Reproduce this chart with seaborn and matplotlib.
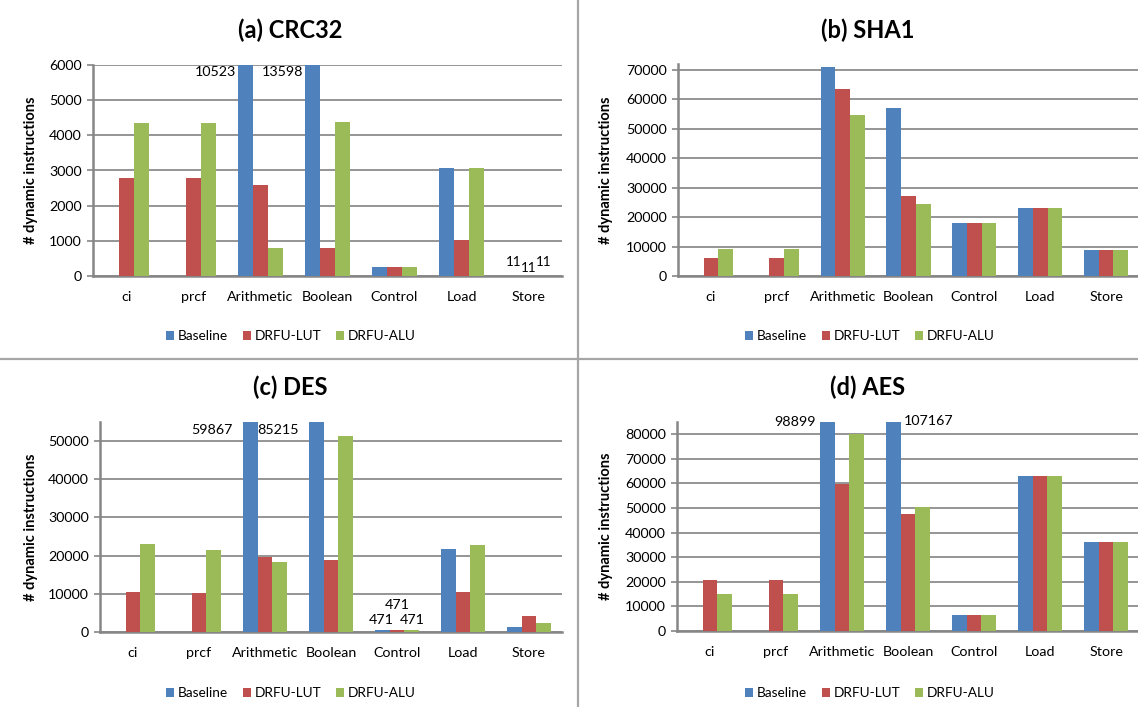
import numpy as np
import pandas as pd
import matplotlib
matplotlib.use("Agg")
import matplotlib.pyplot as plt
from matplotlib.patches import Patch
from matplotlib.lines import Line2D
import seaborn as sns

# ---------------- data ----------------
categories = ["ci", "prcf", "Arithmetic", "Boolean", "Control", "Load", "Store"]
series = ["Baseline", "DRFU-LUT", "DRFU-ALU"]

crc_baseline = [0, 0, 10523, 13598, 250, 3080, 11]
crc_lut = [2800, 2800, 2580, 790, 250, 1025, 11]
crc_alu = [4345, 4345, 790, 4375, 250, 3080, 11]

sha_baseline = [0, 0, 71100, 56900, 18000, 23100, 8900]
sha_lut = [6150, 6150, 63500, 27300, 18000, 23100, 8900]
sha_alu = [9200, 9200, 54750, 24600, 18000, 23100, 8900]

des_baseline = [0, 0, 59867, 85215, 471, 21750, 1300]
des_lut = [10350, 10200, 19700, 18800, 471, 10600, 4100]
des_alu = [23050, 21400, 18250, 51300, 471, 22800, 2400]

aes_baseline = [0, 0, 98899, 107167, 6600, 63200, 36300]
aes_lut = [20600, 20600, 59800, 47700, 6600, 63200, 36300]
aes_alu = [15100, 15100, 80000, 50400, 6600, 63200, 36300]

titles = ["(a) CRC32", "(b) SHA1", "(c) DES", "(d) AES"]
colors = ["#4F81BD", "#C0504D", "#9BBB59"]

# ---------------- style ----------------
sns.set_theme(style="white")
plt.rcParams["font.family"] = ["Lato", "DejaVu Sans"]
plt.rcParams["text.color"] = "#000000"

W, H = 1138, 707
fig = plt.figure(figsize=(W / 100, H / 100), dpi=100)


def px_rect(l, t, r, b):
    return [l / W, 1 - b / H, (r - l) / W, (b - t) / H]


def fx(x):
    return x / W


def fy(y):
    return 1 - y / H


GRID = "#8C8C8C"
SPINE = "#868686"
FS = 10.3


def make_df(b, l, a):
    rows = []
    for s, vals in zip(series, [b, l, a]):
        for c, v in zip(categories, vals):
            rows.append({"category": c, "series": s, "value": v})
    return pd.DataFrame(rows)


panels = [
    dict(data=(crc_baseline, crc_lut, crc_alu), rect=(93, 65, 562, 276), ymax=6000, step=1000,
         title_xy=(290, 30), ylab_x=31, leg_xy=(291, 336)),
    dict(data=(sha_baseline, sha_lut, sha_alu), rect=(678, 64, 1139, 276), ymax=72000, step=10000,
         yticks_max=70000, title_xy=(868, 30), ylab_x=606, leg_xy=(870, 336)),
    dict(data=(des_baseline, des_lut, des_alu), rect=(100, 422, 562, 632), ymax=55000, step=10000,
         yticks_max=50000, title_xy=(290, 387), ylab_x=31, leg_xy=(291, 693)),
    dict(data=(aes_baseline, aes_lut, aes_alu), rect=(677, 422, 1139, 631), ymax=85000, step=10000,
         yticks_max=80000, title_xy=(868, 387), ylab_x=606, leg_xy=(870, 693)),
]

axes = []
for i, p in enumerate(panels):
    ax = fig.add_axes(px_rect(*p["rect"]))
    df = make_df(*p["data"])
    sns.barplot(data=df, x="category", y="value", hue="series", order=categories,
                hue_order=series, palette=colors, width=0.67, saturation=1,
                errorbar=None, legend=False, ax=ax, zorder=3)
    for patch in ax.patches:
        patch.set_edgecolor("none")
    ax.set_xlim(-0.5, 6.5)
    ax.set_ylim(0, p["ymax"])
    ymt = p.get("yticks_max", p["ymax"])
    ax.set_yticks(np.arange(0, ymt + 1, p["step"]))
    ax.set_yticklabels([f"{int(v)}" for v in np.arange(0, ymt + 1, p["step"])])
    ax.yaxis.grid(True, color=GRID, linewidth=1.3, zorder=0)
    ax.set_axisbelow(True)
    ax.set_xticks(range(len(categories)))
    ax.set_xticklabels(categories)
    ax.set_xticks(np.arange(-0.5, 7.0, 1.0), minor=True)
    ax.tick_params(axis="x", which="major", length=0, pad=11, labelsize=FS, colors="#000000")
    ax.tick_params(axis="x", which="minor", length=5, width=1.2, color=SPINE, direction="out")
    ax.tick_params(axis="y", which="major", length=4, width=1.2, color=SPINE, direction="out",
                   pad=4, labelsize=FS, labelcolor="#000000", left=True)
    for s in ["top", "right"]:
        ax.spines[s].set_visible(False)
    for s in ["left", "bottom"]:
        ax.spines[s].set_color(SPINE)
        ax.spines[s].set_linewidth(1.8)
    ax.set_xlabel("")
    ax.set_ylabel("")
    # title, ylabel, legend
    tx, ty = p["title_xy"]
    fig.text(fx(tx), fy(ty), titles[i], ha="center", va="center", fontsize=17, fontweight="bold")
    ax_top, ax_bot = p["rect"][1], p["rect"][3]
    fig.text(fx(p["ylab_x"]), fy((ax_top + ax_bot) / 2), "# dynamic instructions", rotation=90,
             ha="center", va="center", fontsize=10.5, fontweight="bold")
    handles = [Patch(facecolor=c, edgecolor="none", label=s) for c, s in zip(colors, series)]
    lx, ly = p["leg_xy"]
    fig.legend(handles=handles, loc="center", bbox_to_anchor=(fx(lx), fy(ly)), ncol=3,
               frameon=False, fontsize=9.8, handlelength=0.6, handleheight=0.6,
               handletextpad=0.25, columnspacing=1.1, borderaxespad=0)
    axes.append(ax)

off = 0.67 / 3  # bar offset within a category
ax_a, ax_b, ax_c, ax_d = axes
tk = dict(fontsize=FS, va="center", clip_on=False, zorder=5)

# (a) CRC32 labels for clipped bars and tiny Store bars
ax_a.text(2 - 1.5 * off - 0.03, 5800, f"{crc_baseline[2]}", ha="right", **tk)
ax_a.text(3 - 1.5 * off - 0.03, 5800, f"{crc_baseline[3]}", ha="right", **tk)
for k, dy in zip(range(3), [400, 220, 400]):
    vals = [crc_baseline, crc_lut, crc_alu][k]
    ax_a.text(6 + (k - 1) * 0.22, vals[6] + dy, f"{vals[6]}", ha="center",
              **dict(tk, fontsize=9.6))

# (c) DES labels
ax_c.text(2 - 1.5 * off - 0.15, 52800, f"{des_baseline[2]}", ha="right", **tk)
ax_c.text(2 - 0.5 * off - 0.01, 52800, f"{des_baseline[3]}", ha="left", **tk)
for k, dy in zip(range(3), [2600, 6500, 2600]):
    vals = [des_baseline, des_lut, des_alu][k]
    ax_c.text(4 + (k - 1) * off * 1.05, vals[4] + dy, f"{vals[4]}", ha="center", **tk)

# (d) AES labels
ax_d.text(2 - 1.5 * off - 0.07, 84800, f"{aes_baseline[2]}", ha="right", **tk)
ax_d.text(3 - 0.5 * off + 0.05, 85500, f"{aes_baseline[3]}", ha="left", **tk)

# separator lines between panels
fig.add_artist(Line2D([fx(578), fx(578)], [0, 1], color="#A6A6A6", linewidth=1.6))
fig.add_artist(Line2D([0, 1], [fy(359), fy(359)], color="#A6A6A6", linewidth=1.6))

fig.savefig("out.png", dpi=100, facecolor="white")
